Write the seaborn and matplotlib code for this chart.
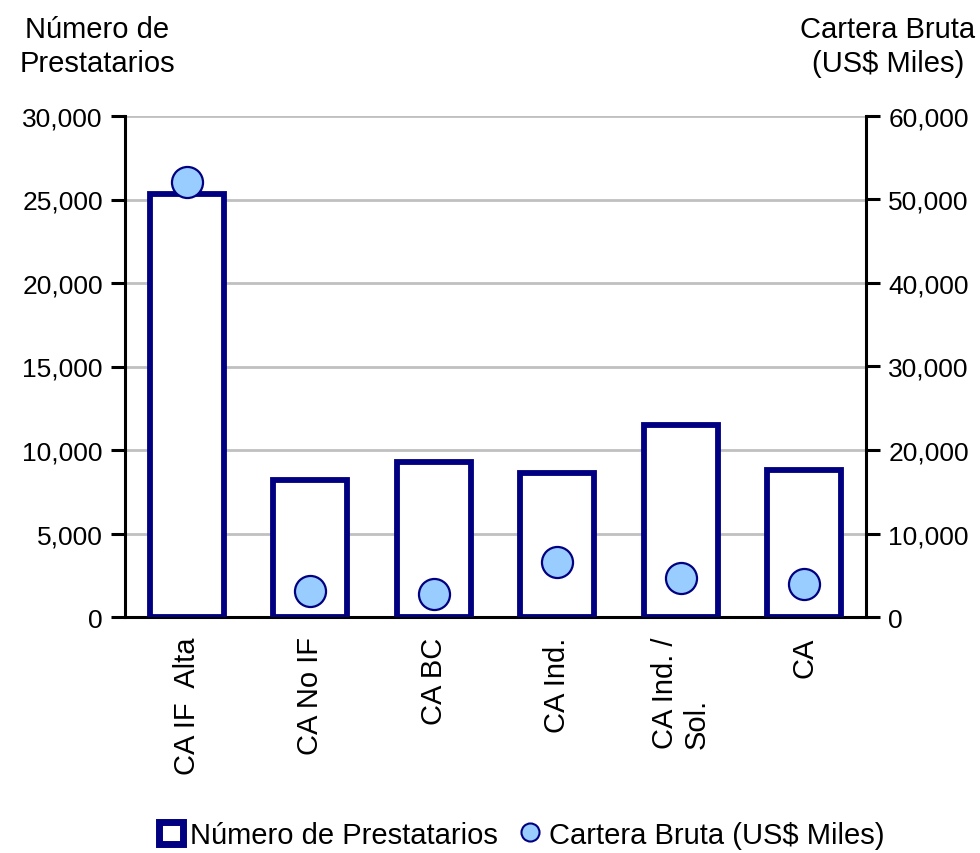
import numpy as np
import seaborn as sns
import matplotlib.pyplot as plt
from matplotlib.ticker import FuncFormatter
from matplotlib.patches import Patch
from matplotlib.lines import Line2D

categories = ['CA IF  Alta', 'CA No IF', 'CA BC', 'CA Ind.', 'CA Ind. /\nSol.', 'CA']
prestatarios = [25300, 8200, 9300, 8600, 11500, 8800]
cartera = [52100, 3150, 2750, 6600, 4700, 3900]

navy = '#000080'
light_blue = '#99CCFF'
grid_grey = '#C0C0C0'

sns.set_style('white')
plt.rcParams['font.family'] = ['Liberation Sans', 'DejaVu Sans']
plt.rcParams['font.size'] = 21
for key in ['text.color', 'axes.labelcolor', 'xtick.color', 'ytick.color']:
    plt.rcParams[key] = 'black'

fig = plt.figure(figsize=(9.8, 8.54), dpi=100)
ax = fig.add_axes([125 / 980, 1 - 618 / 854, (866 - 125) / 980, (618 - 117) / 854])

sns.barplot(x=categories, y=prestatarios, ax=ax, color='white', width=0.6,
            edgecolor=navy, linewidth=4.2, saturation=1, zorder=3)
for p in ax.patches:
    p.set_facecolor('white')

ax.set_ylim(0, 30000)
ax.set_xlim(-0.5, len(categories) - 0.5)
ax.set_yticks(np.arange(0, 30001, 5000))
ax.yaxis.set_major_formatter(FuncFormatter(lambda v, _: f'{int(v):,}'))
ax.yaxis.grid(True, color=grid_grey, linewidth=2, zorder=0)
ax.set_axisbelow(True)

ax.set_xticks(np.arange(-0.5, len(categories), 1.0), minor=True)
ax.tick_params(axis='x', which='major', length=0, pad=14, labelsize=21)
ax.tick_params(axis='x', which='minor', length=10, width=2.2, color='black', direction='out')
ax.tick_params(axis='y', length=10, width=2.2, color='black', direction='out', pad=6,
               labelsize=19)
for lbl in ax.get_xticklabels():
    lbl.set_rotation(90)
    lbl.set_va('top')
    lbl.set_ha('center')
    lbl.set_multialignment('left')

for side in ['top', 'right']:
    ax.spines[side].set_visible(False)
for side in ['left', 'bottom']:
    ax.spines[side].set_linewidth(2.2)
    ax.spines[side].set_color('black')

ax2 = ax.twinx()
sns.scatterplot(x=np.arange(len(categories)), y=cartera, ax=ax2, s=500,
                color=light_blue, edgecolor=navy, linewidth=1.6, zorder=5)
ax2.set_ylim(0, 60000)
ax2.set_yticks(np.arange(0, 60001, 10000))
ax2.yaxis.set_major_formatter(FuncFormatter(lambda v, _: f'{int(v):,}'))
ax2.tick_params(axis='y', length=10, width=2.2, color='black', direction='out', pad=6,
                labelsize=19)
for side in ['top', 'left', 'bottom']:
    ax2.spines[side].set_visible(False)
ax2.spines['right'].set_linewidth(2.2)
ax2.spines['right'].set_color('black')
ax2.set_xlim(-0.5, len(categories) - 0.5)

fig.text(97 / 980, 1 - 47 / 854, 'Número de\nPrestatarios', ha='center', va='center',
         fontsize=21, linespacing=1.3)
fig.text(888 / 980, 1 - 47 / 854, 'Cartera Bruta\n(US$ Miles)', ha='center', va='center',
         fontsize=21, linespacing=1.3)

handles = [
    Patch(facecolor='white', edgecolor=navy, linewidth=5),
    Line2D([], [], marker='o', linestyle='none', markersize=13,
           markerfacecolor=light_blue, markeredgecolor=navy, markeredgewidth=1.5),
]
fig.legend(handles, ['Número de Prestatarios', 'Cartera Bruta (US$ Miles)'],
           loc='center', bbox_to_anchor=(522 / 980, 1 - 836 / 854), ncol=2,
           frameon=False, fontsize=21, handlelength=0.8, handleheight=0.8,
           handletextpad=0.25, columnspacing=0.7)

fig.savefig('out.png', dpi=100)
